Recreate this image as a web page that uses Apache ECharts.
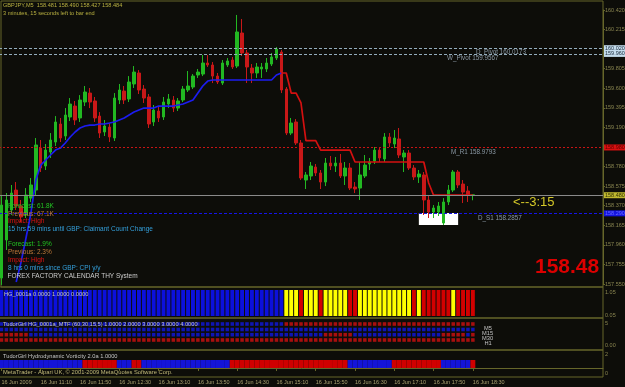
<!DOCTYPE html>
<html><head><meta charset="utf-8">
<script src="https://cdn.jsdelivr.net/npm/echarts@6/dist/echarts.min.js"></script>
<style>html,body{margin:0;padding:0;background:#0d0d09}#c{width:625px;height:387px}</style>
</head><body><div id="c"></div>
<script>
// ---------- data ----------
const timeLabels = ['16 Jun 2009','16 Jun 11:10','16 Jun 11:50','16 Jun 12:30','16 Jun 13:10','16 Jun 13:50','16 Jun 14:30','16 Jun 15:10','16 Jun 15:50','16 Jun 16:30','16 Jun 17:10','16 Jun 17:50','16 Jun 18:30'];
const priceLabels = ['157.550','157.755','157.960','158.165','158.370','158.575','158.780','158.985','159.190','159.395','159.600','159.805','160.010','160.215','160.420'];
const priceMin = 157.550, priceMax = 160.420;
// [open, close, low, high]
const candles = [
[157.613,158.377,157.540,158.471],[158.011,158.430,157.906,158.503],[158.325,158.503,158.273,158.587],[158.534,158.367,158.325,158.618],
[158.367,158.252,158.199,158.430],[158.273,158.482,158.241,158.555],[158.450,158.587,158.409,158.660],[158.534,159.006,158.482,159.079],
[158.974,158.765,158.723,159.058],[158.786,158.953,158.744,159.016],[158.932,159.058,158.870,159.131],[159.037,159.247,158.995,159.309],
[159.226,159.079,159.037,159.289],[159.100,159.320,159.058,159.393],[159.299,159.435,159.257,159.498],[159.414,159.268,159.215,159.467],
[159.289,159.477,159.247,159.529],[159.456,159.561,159.414,159.624],[159.550,159.456,159.393,159.603],[159.467,159.289,159.247,159.509],
[159.309,159.131,159.079,159.351],[159.142,159.205,159.100,159.268],[159.194,159.090,159.037,159.236],[159.079,159.498,159.048,159.550],
[159.477,159.582,159.435,159.645],[159.571,159.477,159.435,159.624],[159.488,159.666,159.456,159.728],[159.645,159.770,159.603,159.833],
[159.760,159.582,159.540,159.791],[159.592,159.498,159.446,159.634],[159.509,159.226,159.184,159.540],[159.247,159.372,159.205,159.425],
[159.362,159.289,159.247,159.404],[159.299,159.456,159.268,159.509],[159.435,159.488,159.393,159.540],[159.477,159.393,159.351,159.519],
[159.393,159.467,159.362,159.498],[159.477,159.592,159.456,159.624],[159.582,159.624,159.561,159.781],[159.613,159.728,159.592,159.749],
[159.739,159.770,159.708,159.802],[159.749,159.865,159.728,159.949],[159.865,159.844,159.823,159.949],[159.844,159.728,159.655,159.875],
[159.728,159.666,159.645,159.760],[159.655,159.865,159.634,159.896],[159.844,159.886,159.823,159.917],[159.896,159.823,159.802,159.928],
[159.833,160.190,159.812,160.368],[160.179,159.970,159.938,160.326],[159.970,159.823,159.655,160.001],[159.812,159.760,159.655,159.854],
[159.760,159.823,159.708,159.865],[159.802,159.823,159.708,159.865],[159.802,159.865,159.770,159.917],[159.854,159.928,159.833,159.970],
[159.917,160.011,159.896,160.032],[159.980,159.582,159.550,160.001],[159.592,159.131,159.110,159.613],[159.131,159.236,159.110,159.289],
[159.247,159.027,159.006,159.278],[159.027,158.660,158.639,159.058],[158.639,158.692,158.545,158.723],[158.681,158.786,158.639,158.828],
[158.775,158.713,158.681,158.807],[158.713,158.618,158.545,158.744],[158.618,158.817,158.576,158.870],[158.817,158.786,158.744,158.891],
[158.786,158.817,158.723,158.880],[158.817,158.681,158.660,158.912],[158.681,158.765,158.587,158.828],[158.765,158.555,158.534,158.817],
[158.566,158.545,158.503,158.618],[158.555,158.692,158.430,158.828],[158.681,158.796,158.660,158.901],[158.807,158.828,158.744,158.870],
[158.838,158.953,158.807,158.985],[158.953,158.870,158.828,158.985],[158.859,159.090,158.828,159.131],[159.090,159.027,158.985,159.131],
[159.016,159.079,158.974,159.163],[159.069,158.901,158.870,159.184],[158.880,158.922,158.723,158.953],[158.922,158.765,158.744,158.953],
[158.765,158.671,158.639,158.796],[158.671,158.702,158.608,158.744],[158.692,158.430,158.273,158.723],[158.430,158.304,158.241,158.482],
[158.304,158.346,158.241,158.377],[158.304,158.367,158.262,158.409],[158.189,158.409,158.168,158.450],[158.409,158.534,158.377,158.587],
[158.534,158.723,158.513,158.744],[158.723,158.587,158.555,158.744],[158.597,158.513,158.398,158.639],[158.524,158.482,158.409,158.576],
[158.481,158.484,158.427,158.490]
];
const blueStart = 3;
const blueTrail = [157.571,157.781,158.032,158.294,158.639,158.796,158.849,158.901,158.953,158.974,159.027,159.090,159.142,159.184,
159.205,159.215,159.215,159.226,159.226,159.236,159.247,159.268,159.289,159.320,159.351,159.372,159.393,159.393,159.393,
159.414,159.414,159.414,159.414,159.425,159.435,159.456,159.477,159.550,159.624,159.676,
159.687,159.687,159.687,159.687,159.687,159.687,159.687,159.687,159.687,159.687,159.687,159.687,159.687,159.739,159.760];
const redStart = 57;
const redTrail = [159.760,159.760,159.550,159.550,159.446,159.051,159.051,159.051,
158.953,158.953,158.953,158.953,158.953,158.953,158.953,
158.828,158.828,158.828,158.828,158.828,158.828,158.828,158.828,158.828,158.828,158.828,158.828,158.828,158.828,158.828,
158.608,158.480,158.480,158.480,158.480,158.480,158.480,158.480,158.480,158.480];
const levelNames = ['D_Pivot','W_Pivot','M_R1','D_S1'];
const levelValues = [160.0173, 159.9567, 158.9793, 158.2857];
const bidPrice = 158.484;
const boxRange = {from: 85, to: 93, top: 158.294, bottom: 158.168};
// indicator states per bar (B blue, Y yellow, R red)
const hgState   = 'BBBBBBBBBBBBBBBBBBBBBBBBBBBBBBBBBBBBBBBBBBBBBBBBBBBBBBBBBB' + 'YYYRYYYRYYYYYRRYYYYYYYYYYYRYRRRRRRYRRRR';
const mtfM5     = 'BBBBBBBBBBBBBBBBBBBBBBBBBBBBBBBBBBBBBBBBBBBBBBBBBBBBBBBBBB' + 'RRRRRRRRRRRRRRRRRRRRRRRRRRRRRRRRRRRRRRR';
const mtfM15    = 'BBBBBBBBBBBBBBBBBBBBBBBBBBBBBBBBBBBBBBBBBBBBBBBBBBBBBBBBBB' + 'BBBBBBBBBBBBBBBBBBBBBBBBBBBBBBBBBBBBBBB';
const mtfM30    = 'RRRRRR' + 'BBBBBBBBBBBBBBBBBBBBBBBBBBBBBBBBBBBBBBBBBBBBBBBBBBBBBBBBBBBB' + 'RRRRRR' + 'BBBBBBBBBBBBBBBBBB' + 'RRRRR' + 'B' + 'R';
const mtfH1     = 'RRRRRRRRRRRRRRRRRRRRRRRRRRRRRRRRRRRRRRRRRRRRRRRRRRRRRRRRRR' + 'RRRRRRRRRRRRRRRRRRRRRRRRRRRRRRRRRRRRRRR';
const vortState = 'BBBBBBBBBBBBBBBBB' + 'RRRRRRR' + 'BBB' + 'RR' + 'BBBBBBBBBBBBBBBBBB' + 'RRRRRRRRRRRRRRRRRRRRRRRR' + 'BBBBBBBBB' + 'RRRRRRRRRR' + 'BBBBBB' + 'R';
const newsLines = [
  ['Forecast: 61.8K','#22c422'],['Previous: 67.1K','#c07a3a'],['Impact: High','#dc1414'],
  ['15 hrs 59 mins until GBP: Claimant Count Change','#34a0dc'],
  ['Forecast: 1.9%','#22c422'],['Previous: 2.3%','#c07a3a'],['Impact: High','#dc1414'],
  ['8 hrs 0 mins since GBP: CPI y/y','#34a0dc'],['FOREX FACTORY CALENDAR THY System','#cccccc']
];
const headerLines = ['GBPJPY,M5  158.481 158.490 158.427 158.484','3 minutes, 15 seconds left to bar end'];
const hgCaption = 'HG_0001a 0.0000 1.0000 0.0000';
const mtfCaption = 'TudorGirl HG_0001a_MTF (60,30,15,5) 1.0000 2.0000 3.0000 3.0000 4.0000';
const vortCaption = 'TudorGirl Hydrodynamic Vorticity 2.0a 1.0000';
const copyright = 'MetaTrader - Alpari UK, \u00a9 2001-2009 MetaQuotes Software Corp.';

// ---------- styling ----------
const FONT = '"Liberation Sans", Arial, sans-serif';
const OLIVE = '#66662a';
const AXT = '#8a8650';
const N = 123;
const cats = Array.from({length: N}, (_, i) => i);
const COL = {B: '#0c10dc', Y: '#ffff00', R: '#d20000'};

function T(text, left, top, size, color, extra) {
  return {text, left, top, padding: 0,
    textStyle: Object.assign({fontSize: size, lineHeight: size + 1.5, color, fontFamily: FONT, fontWeight: 'normal'}, extra || {})};
}
const titles = [
  T(headerLines[0], 3, 1.5, 5.6, '#b8b040'),
  T(headerLines[1], 3, 9.5, 5.6, '#b8b040'),
  T('<--3:15', 513, 194.5, 13, '#d4c828', {lineHeight: 15}),
  T('158.48', 535, 255.5, 21, '#dc0000', {fontWeight: 'bold', lineHeight: 23}),
  T(hgCaption, 4, 290.5, 5.7, '#c4c4c4'),
  T(mtfCaption, 3, 320.5, 5.7, '#c4c4c4'),
  T(vortCaption, 3, 352.5, 5.7, '#c4c4c4'),
  T(copyright, 3, 368.5, 5.8, '#c0b878'),
  T('M5', 484, 324.5, 5.7, '#c4c4c4'),
  T('M15', 482, 329.5, 5.7, '#c4c4c4'),
  T('M30', 482, 334.5, 5.7, '#c4c4c4'),
  T('H1', 484.5, 339.5, 5.7, '#c4c4c4'),
  T(levelNames[0] + ' ' + levelValues[0].toFixed(4), 476, 48.5, 6.3, '#8c9aa6'),
  T(levelNames[1] + ' ' + levelValues[1].toFixed(4), 447, 54.5, 6.3, '#8c9aa6'),
  T(levelNames[2] + ' ' + levelValues[2].toFixed(4), 451, 148.5, 6.3, '#8c9aa6'),
  T(levelNames[3] + ' ' + levelValues[3].toFixed(4), 478, 214.5, 6.3, '#8c9aa6')
];
const newsTops = [202.5, 210, 217.5, 225, 240, 248.5, 256.5, 264, 271.8];
newsLines.forEach((l, k) => titles.push(T(l[0], k === 8 ? 7.5 : 8, newsTops[k], 6.5, l[1])));

function tag(bg, fg) {
  return {show: true, position: 'end', distance: 1, fontSize: 5.5, lineHeight: 6, padding: [0, 1, 0, 1],
    backgroundColor: bg, color: fg, fontFamily: FONT, formatter: p => p.value.toFixed(3)};
}
function lblAxis(grid, max, map) {
  return {gridIndex: grid, type: 'value', position: 'right', min: 0, max: max, interval: 1,
    axisLine: {show: false}, axisTick: {show: false}, splitLine: {show: false},
    axisLabel: {show: true, fontSize: 5.5, color: AXT, margin: 2, fontFamily: FONT, showMinLabel: true, showMaxLabel: true,
      formatter: v => (map[v] !== undefined ? map[v] : '')}};
}
const hidX = g => ({gridIndex: g, type: 'category', data: cats, show: false, boundaryGap: true});

const option = {
  backgroundColor: '#0d0d09',
  animation: false,
  title: titles,
  grid: [
    {left: 1, top: 1, width: 602, height: 286, show: true, borderColor: OLIVE, borderWidth: 1, outerBoundsMode: 'none'},
    {left: -1, top: 10, width: 604, height: 274, outerBoundsMode: 'none'},
    {left: -1, top: 287, width: 604, height: 31, show: true, borderColor: OLIVE, borderWidth: 1, outerBoundsMode: 'none'},
    {left: -1, top: 318, width: 604, height: 32, show: true, borderColor: OLIVE, borderWidth: 1, outerBoundsMode: 'none'},
    {left: -1, top: 350, width: 604, height: 27, show: true, borderColor: OLIVE, borderWidth: 1, outerBoundsMode: 'none'}
  ],
  xAxis: [
    {gridIndex: 0, type: 'value', show: false, min: 0, max: 1},
    hidX(1), hidX(2), hidX(3),
    {gridIndex: 4, type: 'category', data: cats, boundaryGap: true, position: 'bottom',
      axisLine: {show: true, lineStyle: {color: OLIVE}},
      axisTick: {show: true, alignWithLabel: true, length: 3, lineStyle: {color: OLIVE},
        interval: (i) => i % 8 === 0 && i <= 96},
      splitLine: {show: false},
      axisLabel: {show: true, interval: 0, align: 'left', fontSize: 5.5, color: '#a8a070', margin: 2, fontFamily: FONT,
        formatter: (v, i) => (i % 8 === 0 && i <= 96) ? timeLabels[i / 8] : ''}}
  ],
  yAxis: [
    {gridIndex: 0, type: 'value', show: false, min: 0, max: 1},
    {gridIndex: 1, type: 'value', show: false, min: priceMin, max: priceMax},
    {gridIndex: 1, type: 'value', position: 'right', min: 0, max: priceLabels.length - 1, interval: 1,
      axisLine: {show: true, lineStyle: {color: OLIVE}}, axisTick: {show: true, length: 2, lineStyle: {color: OLIVE}},
      splitLine: {show: false},
      axisLabel: {show: true, fontSize: 5.5, color: AXT, margin: 2, fontFamily: FONT, showMinLabel: true, showMaxLabel: true,
        formatter: v => priceLabels[v] || ''}},
    {gridIndex: 2, type: 'value', show: false, min: -0.077, max: 1.115},
    lblAxis(2, 31, {26: '1.05', 3: '0.05'}),
    lblAxis(3, 32, {27: '5', 5: '0.00'}),
    {gridIndex: 4, type: 'value', show: false, min: -1.125, max: 2.25},
    lblAxis(4, 27, {23: '2', 4: '0'})
  ],
  series: [
    {type: 'line', xAxisIndex: 1, yAxisIndex: 1, data: [], z: 1, silent: true,
      markArea: {silent: true, itemStyle: {color: '#ffffff'},
        data: [[{xAxis: boxRange.from, yAxis: boxRange.top}, {xAxis: boxRange.to, yAxis: boxRange.bottom}]]},
      markLine: {silent: true, symbol: ['none', 'none'], animation: false,
        data: [
          {yAxis: levelValues[0], lineStyle: {color: '#94aebe', type: [3, 2], width: 1}, label: tag('#c4dcec', '#203040')},
          {yAxis: levelValues[1], lineStyle: {color: '#94aebe', type: [3, 2], width: 1}, label: tag('#c4dcec', '#203040')},
          {yAxis: levelValues[2], lineStyle: {color: '#c81414', type: [2, 2], width: 1}, label: tag('#d81010', '#600000')},
          {yAxis: bidPrice, lineStyle: {color: '#8a8a8a', type: 'solid', width: 1}, label: tag('#c0b830', '#303000')},
          {yAxis: levelValues[3], lineStyle: {color: '#1414e8', type: [3, 2], width: 1}, label: tag('#1414e0', '#6a6aff')}
        ]}},
    {type: 'candlestick', xAxisIndex: 1, yAxisIndex: 1, data: candles, barWidth: 3, clip: false, z: 2,
      itemStyle: {color: '#22b822', color0: '#c81818', borderColor: '#22b822', borderColor0: '#c81818', borderWidth: 1}},
    {type: 'line', xAxisIndex: 1, yAxisIndex: 1, z: 3, showSymbol: false, symbol: 'none',
      data: blueTrail.map((v, k) => [blueStart + k, v]), lineStyle: {color: '#1c1cf0', width: 1.7}},
    {type: 'line', xAxisIndex: 1, yAxisIndex: 1, z: 3, showSymbol: false, symbol: 'none',
      data: redTrail.map((v, k) => [redStart + k, v]), lineStyle: {color: '#d41010', width: 1.7}},
    {type: 'bar', xAxisIndex: 2, yAxisIndex: 3, barCategoryGap: '20%',
      data: hgState.split('').map(c => ({value: 1, itemStyle: {color: COL[c]}}))},
    ...[[mtfM5, 26], [mtfM15, 20.5], [mtfM30, 15.3], [mtfH1, 10]].map(([row, yv]) => ({
      type: 'scatter', xAxisIndex: 3, yAxisIndex: 5, symbol: 'rect', symbolSize: [3.5, 3.6],
      data: row.split('').map((c, i) => ({value: [i, yv], itemStyle: {color: c === 'B' ? '#1018e0' : '#d01010'}}))})),
    {type: 'bar', xAxisIndex: 4, yAxisIndex: 6, barCategoryGap: '0%',
      data: vortState.split('').map(c => ({value: 1, itemStyle: {color: c === 'B' ? '#1414d8' : '#d00000'}}))}
  ]
};
const chart = echarts.init(document.getElementById('c'), null, {renderer: 'canvas'});
chart.setOption(option);
</script></body></html>
